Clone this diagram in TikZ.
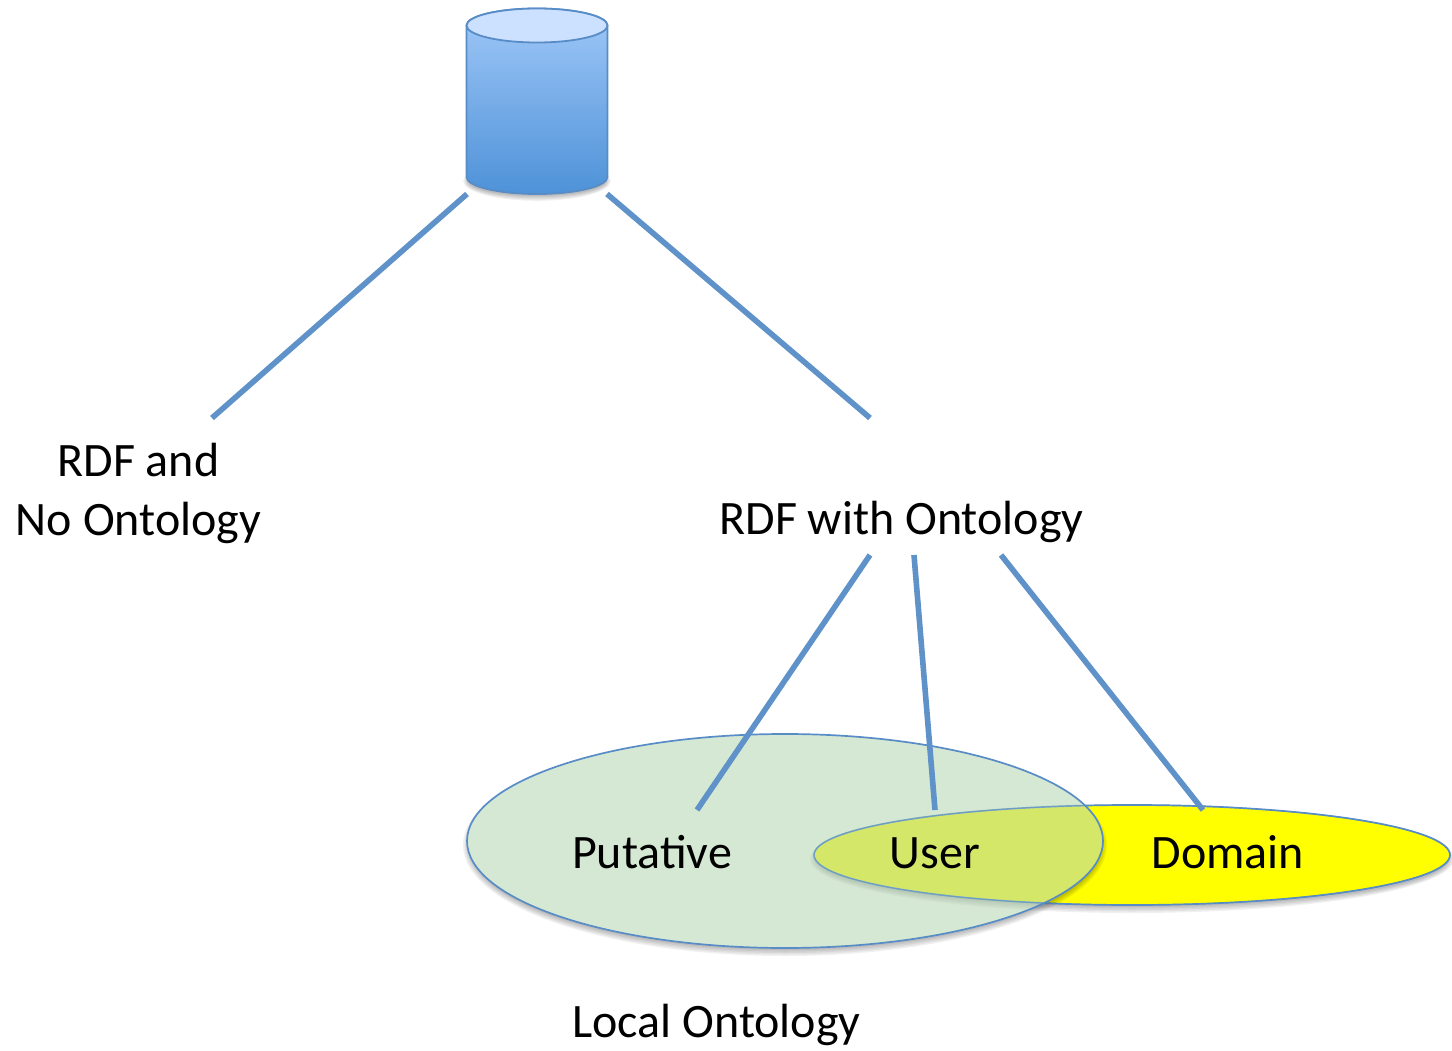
\documentclass[tikz,border=0pt]{standalone}
\usepackage{fontspec}
\setmainfont{Carlito}
\usetikzlibrary{shapes.geometric}
\definecolor{linec}{RGB}{94,146,200}
\definecolor{edgec}{RGB}{88,140,198}
\definecolor{greenc}{RGB}{183,215,181}
\definecolor{bodytop}{RGB}{160,200,248}
\definecolor{bodybot}{RGB}{78,146,216}
\definecolor{captop}{RGB}{204,224,255}
\definecolor{pureyellow}{RGB}{255,255,0}
\tikzset{x=1pt,y=-1pt,
  conn/.style={draw=linec,line width=5.6pt},
  label/.style={font=\fontsize{48}{59}\selectfont,text=black,inner sep=0pt,anchor=base},
  oval/.style={ellipse,draw=edgec,line width=1.7pt,inner sep=0pt,outer sep=0pt},
  softshadow/.style={fill=black,fill opacity=0.06,draw=none}}
\begin{document}
\begin{tikzpicture}
\useasboundingbox (0,0) rectangle (1452,1051);
% shadow of the yellow ellipse
\foreach \g in {0,1.5,3,4.5,6}{
  \fill[softshadow] (1132,859) ellipse ({318+\g-2} and {50+\g-2});
}
\node[oval,fill=pureyellow,minimum width=636pt,minimum height=100pt] (domainoval) at (1132,855) {};
% shadow of the green ellipse, outside it only
\begin{scope}[even odd rule]
\clip (0,0) rectangle (1452,1051) (785,841) ellipse (318 and 107);
\foreach \g in {0,1.5,3,4.5,6}{
  \fill[softshadow,nonzero rule] (785,845) ellipse ({318+\g-2} and {107+\g-2});
}
\end{scope}
\node[oval,fill=greenc,fill opacity=0.58,minimum width=636pt,minimum height=214pt] (localoval) at (785,841) {};
\node[ellipse,draw=edgec,line width=1.2pt,draw opacity=0.6,minimum width=636pt,minimum height=100pt,inner sep=0pt,outer sep=0pt] (domainedge) at (1132,855) {};
% cylinder
\foreach \g in {0,1.2,2.4,3.6,4.8}{
  \fill[softshadow] (537,181) ellipse ({71+\g-2} and {17+\g-2});
}
\path[draw=edgec,line width=1.8pt,top color=bodytop,bottom color=bodybot]
  (466.5,25.5) -- (466.5,177) arc[start angle=180,end angle=0,x radius=70.5,y radius=17] -- (607.5,25.5)
  arc[start angle=0,end angle=-180,x radius=70.5,y radius=17] -- cycle;
\node[ellipse,draw=edgec,line width=1.8pt,fill=captop,minimum width=141pt,minimum height=34pt,inner sep=0pt,outer sep=0pt] (dbcap) at (537,25.5) {};
% labels
\node[label,align=center,anchor=center] (rdfno) at (138.5,493) {RDF and\\No Ontology};
\node[label] (rdfwith) at (901.5,534.5) {RDF with Ontology};
\node[label] (putative) at (652,868.5) {Putative};
\node[label] (user) at (935,868.5) {User};
\node[label] (domain) at (1228,868.5) {Domain};
\node[label] (localont) at (716.5,1037.5) {Local Ontology};
% free ends
\coordinate (noTop) at (212,418);
\coordinate (withTop) at (870,418);
\coordinate (dbL) at (467,194);
\coordinate (dbR) at (607,194);
\coordinate (wa) at (870,555);
\coordinate (wb) at (914,555);
\coordinate (wc) at (1001,555);
\coordinate (pe) at (697,810);
\coordinate (ue) at (935,810);
\coordinate (de) at (1203,810);
\draw[conn] (dbL) -- (noTop);
\draw[conn] (dbR) -- (withTop);
\draw[conn] (wa) -- (pe);
\draw[conn] (wb) -- (ue);
\draw[conn] (wc) -- (de);
\end{tikzpicture}
\end{document}
